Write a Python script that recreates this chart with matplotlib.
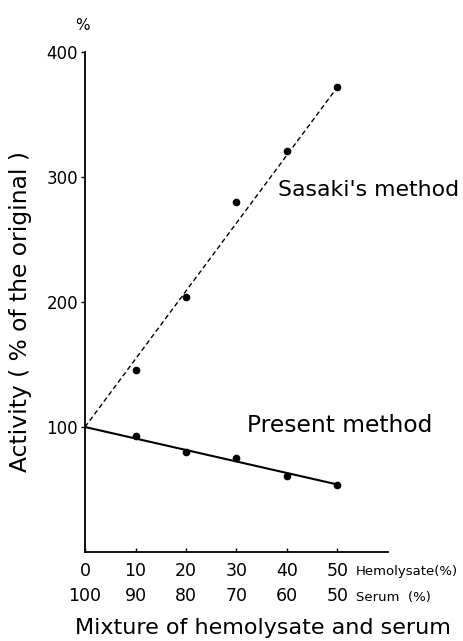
import matplotlib
matplotlib.use("Agg")
import matplotlib.pyplot as plt
import matplotlib.transforms as mtransforms

# --- data ---
hemolysate = [0, 10, 20, 30, 40, 50]
serum = [100, 90, 80, 70, 60, 50]
point_x = [10, 20, 30, 40, 50]
sasaki_y = [146, 204, 280, 321, 372]
present_y = [93, 80, 75, 61, 54]
fit_x = [0, 50]
sasaki_fit = [100, 372]
present_fit = [100, 54]
y_ticks = [100, 200, 300, 400]

plt.rcParams["font.family"] = "DejaVu Sans"

fig = plt.figure(figsize=(4.63, 6.41), dpi=100)
ax = fig.add_axes([85 / 463, 1 - 552 / 641, 303 / 463, 500 / 641])

ax.plot(fit_x, sasaki_fit, ls=(0, (3.5, 2.2)), lw=1.0, color="black")
ax.plot(fit_x, present_fit, ls="-", lw=1.5, color="black")
ax.plot(point_x, sasaki_y, "o", ms=4.5, color="black")
ax.plot(point_x, present_y, "o", ms=4.5, color="black")

ax.set_xlim(0, 60)
ax.set_ylim(0, 400)
for side in ("top", "right"):
    ax.spines[side].set_visible(False)
ax.spines["left"].set_bounds(0, 400)
ax.spines["left"].set_linewidth(1.3)
ax.spines["bottom"].set_linewidth(1.3)

ax.set_yticks(y_ticks)
ax.set_yticklabels([str(v) for v in y_ticks], fontsize=12)
ax.tick_params(axis="y", direction="out", length=3, width=1, pad=2)

ax.set_xticks(hemolysate)
ax.set_xticklabels([f"{h}\n{s}" for h, s in zip(hemolysate, serum)],
                   fontsize=12.5, linespacing=1.55)
ax.tick_params(axis="x", direction="in", length=3, width=1, pad=7)

# row names after the last tick
trans = mtransforms.blended_transform_factory(ax.transData, fig.transFigure)
ax.text(53.6, 1 - 572 / 641, "Hemolysate(%)", transform=trans,
        fontsize=9.5, va="center", ha="left")
ax.text(53.6, 1 - 598 / 641, "Serum  (%)", transform=trans,
        fontsize=9.5, va="center", ha="left")

fig.text(263 / 463, 1 - 628 / 641, "Mixture of hemolysate and serum",
         fontsize=16, ha="center", va="center")
fig.text(21 / 463, 1 - 311 / 641, "Activity ( % of the original )",
         fontsize=16.8, rotation=90, ha="center", va="center")
fig.text(82 / 463, 1 - 25 / 641, "%", fontsize=11, ha="center", va="center")

ax.text(38.2, 290, "Sasaki's method", fontsize=15.8, ha="left", va="center")
ax.text(32.1, 101, "Present method", fontsize=16.8, ha="left", va="center")

fig.savefig("out.png", dpi=100)
